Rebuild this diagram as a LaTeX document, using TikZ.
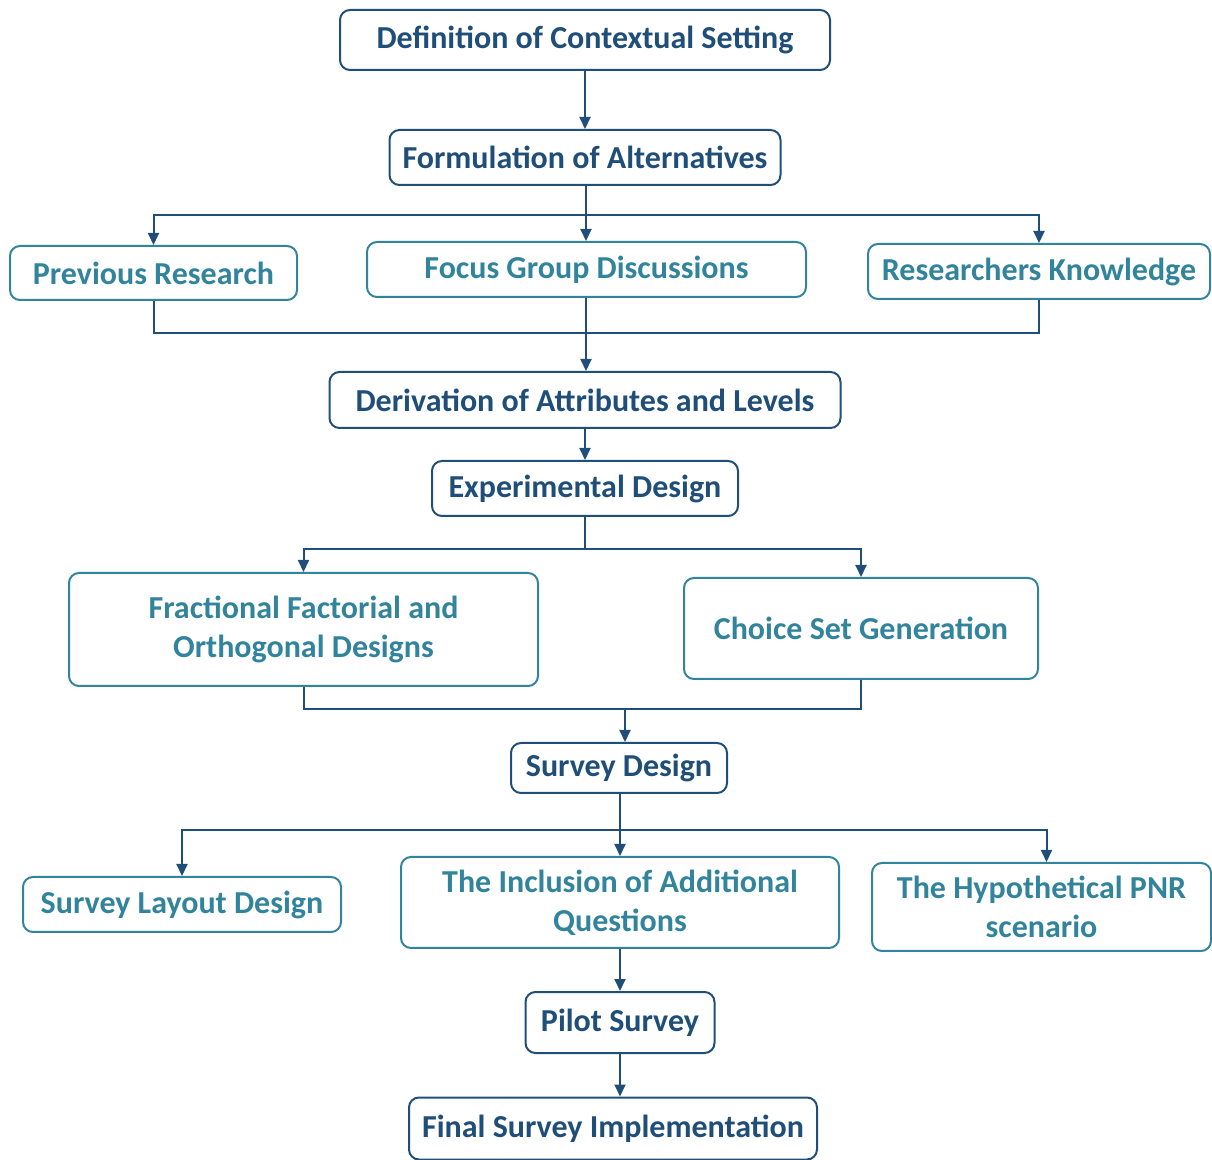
\documentclass[tikz,border=0pt]{standalone}
\usepackage{fontspec}
\setmainfont{Carlito}
\usetikzlibrary{arrows.meta}
\definecolor{darkblue}{HTML}{1F4E79}
\definecolor{tealblue}{HTML}{31849B}

\begin{document}
\begin{tikzpicture}[x=0.5pt,y=-0.5pt,
  box/.style={draw, rounded corners=5pt, line width=1pt, align=center, inner sep=0pt,
    font=\bfseries\fontsize{16}{19.5}\selectfont},
  mainbox/.style={box, draw=darkblue, text=darkblue},
  sidebox/.style={box, draw=tealblue, text=tealblue},
  link/.style={darkblue, line width=1pt},
  arr/.style={link, -{Triangle[length=6pt,width=5.5pt]}}]

\useasboundingbox (0,0) rectangle (1212,1160);

% main steps
\node[mainbox, minimum width=245pt, minimum height=30pt] (def) at (585,40) {Definition of Contextual Setting};
\node[mainbox, minimum width=195.5pt, minimum height=27.5pt] (form) at (585,157.5) {Formulation of Alternatives};
\node[mainbox, minimum width=255.5pt, minimum height=28pt] (deriv) at (585,400) {Derivation of Attributes and Levels};
\node[mainbox, minimum width=153pt, minimum height=27.5pt] (exp) at (585,488.5) {Experimental Design};
\node[mainbox, minimum width=108pt, minimum height=25pt] (survey) at (619,768) {Survey Design};
\node[mainbox, minimum width=94.5pt, minimum height=30.5pt] (pilot) at (620,1022.5) {Pilot Survey};
\node[mainbox, minimum width=204pt, minimum height=31pt] (final) at (613,1128.5) {Final Survey Implementation};

% sources
\node[sidebox, minimum width=143.5pt, minimum height=27pt] (prev) at (153.5,273) {Previous Research};
\node[sidebox, minimum width=219.5pt, minimum height=27.5pt] (focus) at (586.5,269.5) {Focus Group Discussions};
\node[sidebox, minimum width=171pt, minimum height=27.5pt] (res) at (1039,271.5) {Researchers Knowledge};

% design parts
\node[sidebox, minimum width=234.5pt, minimum height=56.5pt] (frac) at (303.5,629.5) {Fractional Factorial and\\Orthogonal Designs};
\node[sidebox, minimum width=177pt, minimum height=50.5pt] (choice) at (861,628.5) {Choice Set Generation};

% survey parts
\node[sidebox, minimum width=159pt, minimum height=27.5pt] (layout) at (182,904.5) {Survey Layout Design};
\node[sidebox, minimum width=219pt, minimum height=45.5pt] (incl) at (620,902.5) {The Inclusion of Additional\\Questions};
\node[sidebox, minimum width=169.5pt, minimum height=44pt] (hypo) at (1041.5,907) {The Hypothetical PNR\\scenario};

% connectors
\coordinate (b1) at (586,215);
\coordinate (j1) at (586,333);
\coordinate (b2) at (585,549);
\coordinate (j2) at (625,709);
\coordinate (b3) at (620,830);

\draw[arr] (def) -- (form);
\draw[link] (form.south -| b1) -- (b1);
\draw[arr] (b1) -| (prev.north);
\draw[arr] (b1) -| (res.north);
\draw[arr] (b1) -- (b1 |- focus.north);
\draw[link] (prev.south) |- (j1) -| (res.south);
\draw[arr] (focus.south -| j1) -- (j1 |- deriv.north);
\draw[arr] (deriv) -- (exp);
\draw[link] (exp) -- (b2);
\draw[arr] (b2) -| (frac.north);
\draw[arr] (b2) -| (choice.north);
\draw[link] (frac.south) |- (j2) -| (choice.south);
\draw[arr] (j2) -- (survey.north -| j2);
\draw[link] (survey.south -| b3) -- (b3);
\draw[arr] (b3) -| (layout.north);
\draw[arr] (b3) -| ([xshift=2.5pt]hypo.north);
\draw[arr] (b3) -- (b3 |- incl.north);
\draw[arr] (incl.south) -- (pilot.north -| incl.south);
\draw[arr] (pilot.south) -- (final.north -| pilot.south);

\end{tikzpicture}
\end{document}
